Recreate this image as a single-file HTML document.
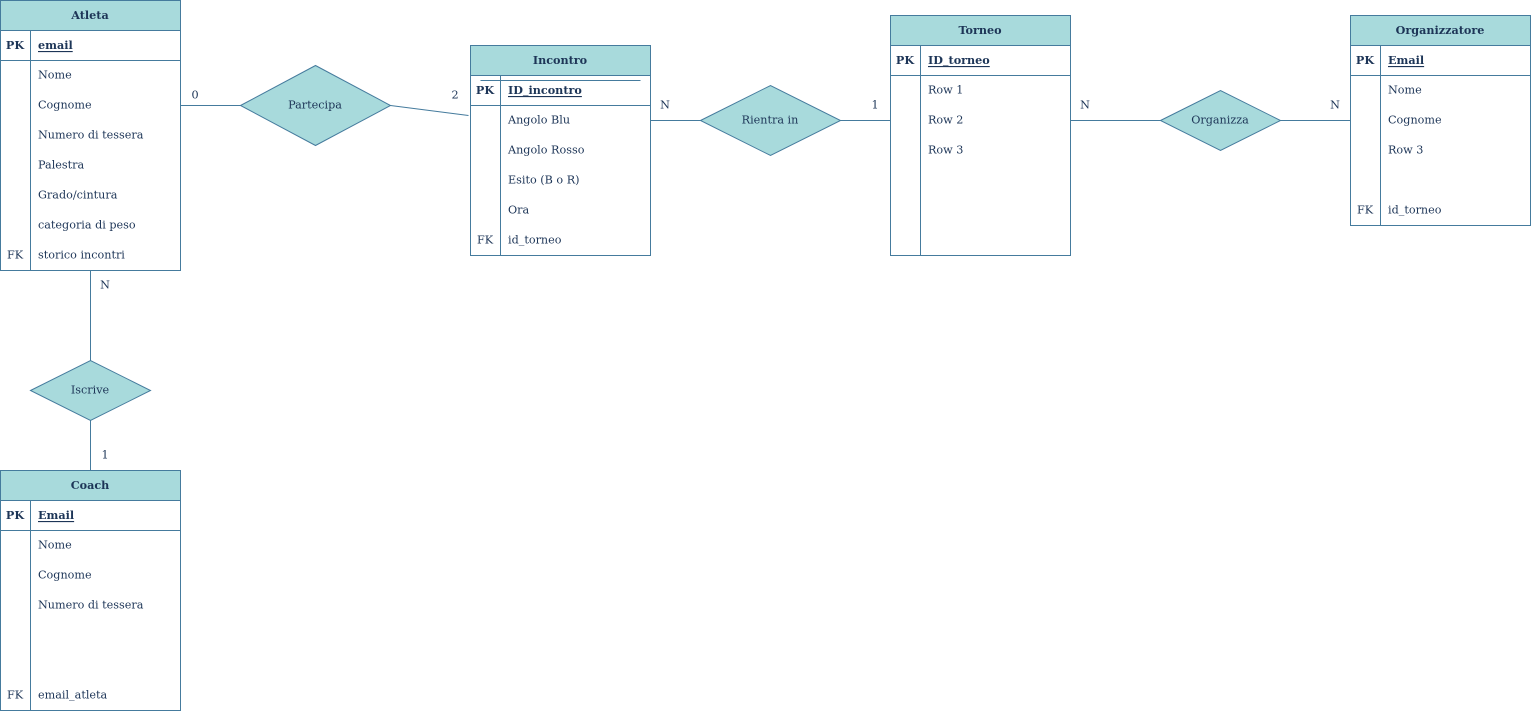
<!DOCTYPE html>
<html><head><meta charset="utf-8"><style>
html,body{margin:0;padding:0;background:#fff;}
svg{display:block;}
text{font-family:"DejaVu Serif","Liberation Serif",serif;font-size:11.2px;fill:#1d3557;dominant-baseline:central;}
.b{font-weight:bold;}
.u{text-decoration:underline;}
.s{stroke:#457b9d;stroke-width:1;fill:none;}
.f{fill:#a8dadc;stroke:#457b9d;stroke-width:1;}
.w{fill:#fff;stroke:#457b9d;stroke-width:1;}
</style></head><body>
<svg width="1531" height="711" viewBox="0 0 1531 711" xmlns="http://www.w3.org/2000/svg">
<g transform="translate(0,-1)">
<!-- connectors -->
<path class="s" d="M180.5 106.5H240.5M390.5 106.5L468.5 116.5M650.5 121.5H700.5M840.5 121.5H890.5M1070.5 121.5H1160.5M1280.5 121.5H1350.5M90.5 271.5V361.5M90.5 421.5V471.5" transform="translate(0,0)"/>
</g>
<g transform="translate(0,-1)">
<text x="195" y="96" text-anchor="middle">0</text>
<text x="455" y="96" text-anchor="middle">2</text>
<text x="665" y="106" text-anchor="middle">N</text>
<text x="875" y="106" text-anchor="middle">1</text>
<text x="1085" y="106" text-anchor="middle">N</text>
<text x="1335" y="106" text-anchor="middle">N</text>
<text x="105" y="286" text-anchor="middle">N</text>
<text x="105" y="456" text-anchor="middle">1</text>
</g>

<!-- diamonds -->
<polygon class="f" points="240.5,105.5 315.5,65.5 390.5,105.5 315.5,145.5"/>
<text x="315" y="105" text-anchor="middle">Partecipa</text>
<polygon class="f" points="700.5,120.5 770.5,85.5 840.5,120.5 770.5,155.5"/>
<text x="770" y="120" text-anchor="middle">Rientra in</text>
<polygon class="f" points="1160.5,120.5 1220.5,90.5 1280.5,120.5 1220.5,150.5"/>
<text x="1220" y="120" text-anchor="middle">Organizza</text>
<polygon class="f" points="30.5,390.5 90.5,360.5 150.5,390.5 90.5,420.5"/>
<text x="90" y="390" text-anchor="middle">Iscrive</text>

<!-- Atleta -->
<rect class="w" x="0.5" y="0.5" width="180" height="270"/>
<rect class="f" x="0.5" y="0.5" width="180" height="30"/>
<path class="s" d="M0.5 60.5H180.5M30.5 30.5V270.5"/>
<g transform="translate(0,-1)">
<text class="b" x="90" y="16" text-anchor="middle">Atleta</text>
<text class="b" x="15" y="46" text-anchor="middle">PK</text>
<text class="b u" x="38" y="46">email</text>
<text x="38" y="76">Nome</text>
<text x="38" y="106">Cognome</text>
<text x="38" y="136">Numero di tessera</text>
<text x="38" y="166">Palestra</text>
<text x="38" y="196">Grado/cintura</text>
<text x="38" y="226">categoria di peso</text>
<text x="15" y="256" text-anchor="middle">FK</text>
<text x="38" y="256">storico incontri</text>
</g>

<!-- Incontro -->
<rect class="w" x="470.5" y="45.5" width="180" height="210"/>
<rect class="f" x="470.5" y="45.5" width="180" height="30"/>
<path class="s" d="M470.5 105.5H650.5M500.5 75.5V255.5M480.5 80.5H640.5"/>
<g transform="translate(0,-1)">
<text class="b" x="560" y="61" text-anchor="middle">Incontro</text>
<text class="b" x="485" y="91" text-anchor="middle">PK</text>
<text class="b u" x="508" y="91">ID_incontro</text>
<text x="508" y="121">Angolo Blu</text>
<text x="508" y="151">Angolo Rosso</text>
<text x="508" y="181">Esito (B o R)</text>
<text x="508" y="211">Ora</text>
<text x="485" y="241" text-anchor="middle">FK</text>
<text x="508" y="241">id_torneo</text>
</g>

<!-- Torneo -->
<rect class="w" x="890.5" y="15.5" width="180" height="240"/>
<rect class="f" x="890.5" y="15.5" width="180" height="30"/>
<path class="s" d="M890.5 75.5H1070.5M920.5 45.5V255.5"/>
<g transform="translate(0,-1)">
<text class="b" x="980" y="31" text-anchor="middle">Torneo</text>
<text class="b" x="905" y="61" text-anchor="middle">PK</text>
<text class="b u" x="928" y="61">ID_torneo</text>
<text x="928" y="91">Row 1</text>
<text x="928" y="121">Row 2</text>
<text x="928" y="151">Row 3</text>
</g>

<!-- Organizzatore -->
<rect class="w" x="1350.5" y="15.5" width="180" height="210"/>
<rect class="f" x="1350.5" y="15.5" width="180" height="30"/>
<path class="s" d="M1350.5 75.5H1530.5M1380.5 45.5V225.5"/>
<g transform="translate(0,-1)">
<text class="b" x="1440" y="31" text-anchor="middle">Organizzatore</text>
<text class="b" x="1365" y="61" text-anchor="middle">PK</text>
<text class="b u" x="1388" y="61">Email</text>
<text x="1388" y="91">Nome</text>
<text x="1388" y="121">Cognome</text>
<text x="1388" y="151">Row 3</text>
<text x="1365" y="211" text-anchor="middle">FK</text>
<text x="1388" y="211">id_torneo</text>
</g>

<!-- Coach -->
<rect class="w" x="0.5" y="470.5" width="180" height="240"/>
<rect class="f" x="0.5" y="470.5" width="180" height="30"/>
<path class="s" d="M0.5 530.5H180.5M30.5 500.5V710.5"/>
<g transform="translate(0,-1)">
<text class="b" x="90" y="486" text-anchor="middle">Coach</text>
<text class="b" x="15" y="516" text-anchor="middle">PK</text>
<text class="b u" x="38" y="516">Email</text>
<text x="38" y="546">Nome</text>
<text x="38" y="576">Cognome</text>
<text x="38" y="606">Numero di tessera</text>
<text x="15" y="696" text-anchor="middle">FK</text>
<text x="38" y="696">email_atleta</text>
</g>
</svg>
</body></html>
